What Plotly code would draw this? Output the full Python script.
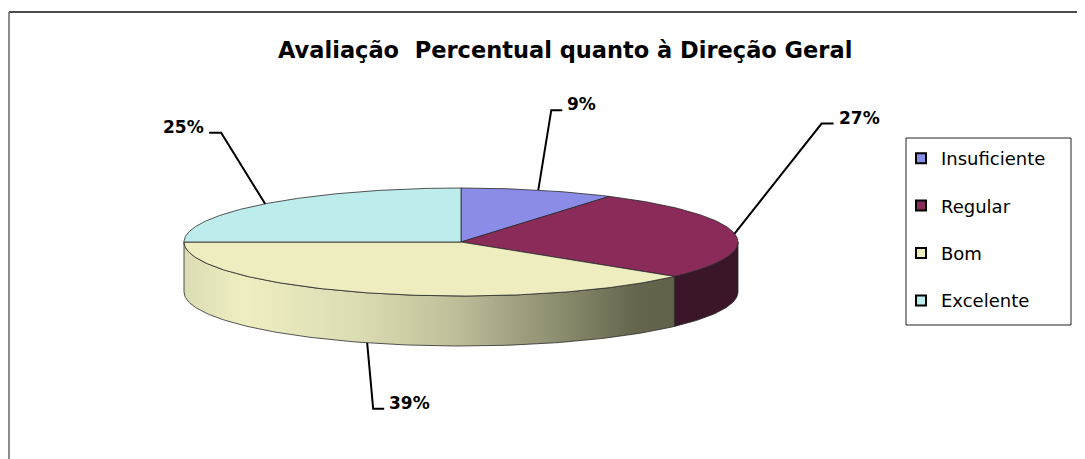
import numpy as np
import plotly.graph_objects as go

# ---------------- data ----------------
categories = ["Insuficiente", "Regular", "Bom", "Excelente"]
values = [9, 27, 39, 25]
title_text = "Avaliação\u00a0 Percentual quanto à Direção Geral"

# ---------------- styles / layout params ----------------
top_colors = ["#8B8BE8", "#8B2B5A", "#EDEDC0", "#BDECEC"]
side_colors = ["#5A5A98", "#3B1528", "#B8B890", "#7A9898"]
bom_gradient = [[0.0, "#DCDCB4"], [0.12, "#EEEEC2"], [0.35, "#DDDDB4"],
                [0.55, "#BFBF9A"], [0.75, "#909072"], [0.92, "#66664E"], [1.0, "#62624A"]]
W, H = 1085, 459
OFF = 8  # page body margin of the browser
CX, CY, RX, RY, DEPTH = 461, 242, 277, 54, 50
# leader elbow offsets from anchor, per category: (dx, dy, horizontal tail)
leader_offsets = [(13, -80, 11), (87, -110, 12), (6, 66, 11), (-44, -71, -12)]
FONT = "DejaVu Sans"

fig = go.Figure()


def ell(theta_deg, depth=0.0):
    t = np.radians(theta_deg)
    return CX + RX * np.sin(t), CY - RY * np.cos(t) + depth


total = float(sum(values))
bounds = np.concatenate([[0.0], np.cumsum(values) / total * 360.0])

# ---- side faces (front half: 90..270 deg clockwise from top) ----
for i, cat in enumerate(categories):
    a1, a2 = bounds[i], bounds[i + 1]
    s, e = max(a1, 90.0), min(a2, 270.0)
    if e <= s:
        continue
    th = np.linspace(s, e, 120)
    xt, yt = ell(th)
    xb, yb = ell(th[::-1], DEPTH)
    xs = np.concatenate([xt, xb, xt[:1]])
    ys = np.concatenate([yt, yb, yt[:1]])
    kw = dict(fillcolor=side_colors[i])
    if cat == "Bom":
        kw = dict(fillgradient=dict(type="horizontal", colorscale=bom_gradient,
                                    start=float(xs.min()), stop=float(xs.max())))
    fig.add_trace(go.Scatter(x=xs, y=ys, mode="lines", fill="toself",
                             line=dict(color="#2A2A2A", width=0.8),
                             hoverinfo="skip", showlegend=False, **kw))

# ---- top faces ----
for i, cat in enumerate(categories):
    a1, a2 = bounds[i], bounds[i + 1]
    th = np.linspace(a1, a2, 160)
    xa, ya = ell(th)
    xs = np.concatenate([[CX], xa, [CX]])
    ys = np.concatenate([[CY], ya, [CY]])
    fig.add_trace(go.Scatter(x=xs, y=ys, mode="lines", fill="toself",
                             fillcolor=top_colors[i],
                             line=dict(color="#2A2A2A", width=0.8),
                             name=cat, hovertemplate=f"{cat}: {values[i]}%<extra></extra>",
                             showlegend=False))

# ---- leader lines and labels ----
for i, cat in enumerate(categories):
    m = (bounds[i] + bounds[i + 1]) / 2.0
    depth = DEPTH if 90.0 < m < 270.0 else 0.0
    ax, ay = ell(m, depth)
    dx, dy, tail = leader_offsets[i]
    ex, ey = ax + dx, ay + dy
    tx = ex + tail
    fig.add_trace(go.Scatter(x=[ax, ex, tx], y=[ay, ey, ey], mode="lines",
                             line=dict(color="black", width=2),
                             hoverinfo="skip", showlegend=False))
    fig.add_annotation(x=tx + (3 if tail > 0 else -3), y=ey - 6, xref="x", yref="y",
                       text=f"{values[i]}%", showarrow=False,
                       xanchor="left" if tail > 0 else "right", yanchor="middle",
                       font=dict(family=FONT, size=17, color="black", weight="bold"))

# ---- legend entries ----
for i, cat in enumerate(categories):
    fig.add_trace(go.Scatter(x=[None], y=[None], mode="markers", name=cat,
                             legendgroup=cat,
                             marker=dict(symbol="square", size=10, color=top_colors[i],
                                         line=dict(color="black", width=2))))

# ---- title ----
fig.add_annotation(x=565, y=50, xref="x", yref="y", text=title_text, showarrow=False,
                   xanchor="center", yanchor="middle",
                   font=dict(family=FONT, size=22.5, color="black", weight="bold"))

# ---- frames ----
fig.add_shape(type="rect", x0=906, x1=1071, y0=138, y1=325, xref="x", yref="y",
              line=dict(color="#222222", width=1), fillcolor="rgba(0,0,0,0)", layer="below")
fig.add_shape(type="line", x0=9, x1=W + OFF, y0=12, y1=12, xref="x", yref="y",
              line=dict(color="#111111", width=1.5))
fig.add_shape(type="line", x0=9, x1=9, y0=12, y1=H + OFF, xref="x", yref="y",
              line=dict(color="#666666", width=1.5))

fig.update_layout(
    width=W, height=H,
    margin=dict(l=0, r=0, t=0, b=0),
    paper_bgcolor="white", plot_bgcolor="white",
    xaxis=dict(range=[OFF, W + OFF], visible=False, fixedrange=True),
    yaxis=dict(range=[H + OFF, OFF], visible=False, fixedrange=True),
    showlegend=True,
    legend=dict(x=(901 - OFF) / W, y=1 - (140 - OFF) / H, xanchor="left", yanchor="top",
                bgcolor="rgba(0,0,0,0)", borderwidth=0, tracegroupgap=21,
                font=dict(family=FONT, size=18, color="black")),
)

fig.write_html("out.html")
